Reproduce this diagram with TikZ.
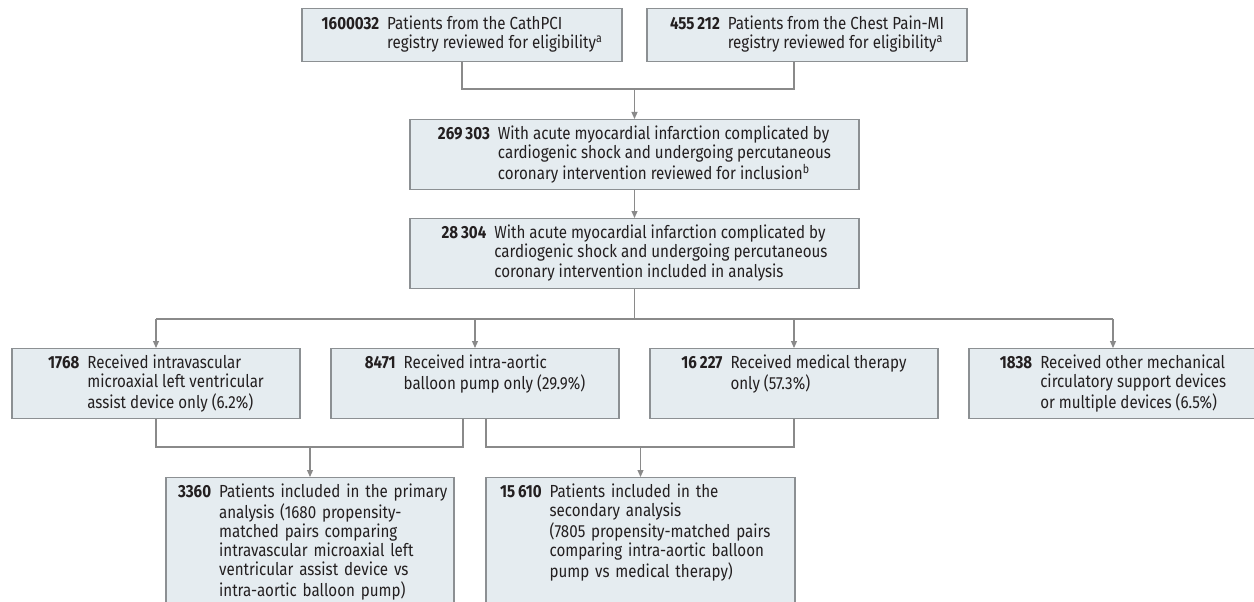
\documentclass[tikz,border=0pt]{standalone}
\usepackage{fontspec}
\setmainfont[FakeStretch=0.865]{Fira Sans}
\usetikzlibrary{arrows.meta}
\definecolor{boxfill}{RGB}{229,236,240}
\definecolor{boxline}{RGB}{140,144,147}
\definecolor{linegray}{RGB}{138,138,138}
\definecolor{ink}{RGB}{35,31,32}
\newcommand{\entry}[2]{\begin{tabular}[t]{@{}l@{\hspace{8pt}}l@{}}\textbf{#1} & #2\end{tabular}}
\tikzset{
  box/.style={draw=boxline, fill=boxfill, line width=1.2pt, anchor=north, inner xsep=0pt, inner ysep=6.8pt,
    text=ink, font=\fontsize{17.5}{18.8}\selectfont, text height=13.2pt, text depth=43.2pt},
  twoline/.style={text depth=24.4pt, inner ysep=7.7pt},
  tallbox/.style={text depth=200pt, align=left},
  conn/.style={draw=linegray, line width=1.1pt},
  arrow/.style={conn, -{Triangle[length=7pt,width=6pt]}}
}
\begin{document}
\begin{tikzpicture}[x=1pt,y=-1pt]
    \useasboundingbox (0,0) rectangle (1254,602);
    \clip (0,0) rectangle (1254,602);
    \node[box, twoline, minimum width=320pt] (nCath) at (462,8) {\entry{1600032}{Patients from the CathPCI\\ & registry reviewed for eligibility\textsuperscript{a}}};
    \node[box, twoline, minimum width=320pt] (nChest) at (807,8) {\entry{455\,212}{Patients from the Chest Pain-MI\\ & registry reviewed for eligibility\textsuperscript{a}}};
    \node[box, minimum width=449pt] (nReview) at (634.5,119) {\entry{269\,303}{With acute myocardial infarction complicated by\\ & cardiogenic shock and undergoing percutaneous\\ & coronary intervention reviewed for inclusion\textsuperscript{b}}};
    \node[box, minimum width=449pt] (nIncl) at (634.5,218) {\entry{28\,304}{With acute myocardial infarction complicated by\\ & cardiogenic shock and undergoing percutaneous\\ & coronary intervention included in analysis}};
    \node[box, minimum width=288pt] (nImpella) at (156,348) {\entry{1768}{Received intravascular\\ & microaxial left ventricular\\ & assist device only (6.2\%)}};
    \node[box, minimum width=288pt] (nIabp) at (475,348) {\entry{8471}{Received intra-aortic\\ & balloon pump only (29.9\%)\\ & }};
    \node[box, minimum width=288pt] (nMed) at (794,348) {\entry{16\,227}{Received medical therapy\\ & only (57.3\%)\\ & }};
    \node[box, minimum width=288pt] (nOther) at (1113,348) {\entry{1838}{Received other mechanical\\ & circulatory support devices\\ & or multiple devices (6.5\%)}};
    \node[box, tallbox, inner xsep=12pt, text width=264pt] (nPrim) at (310,477) {\entry{3360}{Patients included in the primary\\ & analysis (1680 propensity-\\ & matched pairs comparing\\ & intravascular microaxial left\\ & ventricular assist device vs\\ & intra-aortic balloon pump)}};
    \node[box, tallbox, inner xsep=14pt, text width=281pt] (nSec) at (640.5,477) {\entry{15\,610}{Patients included in the\\ & secondary analysis\\ & (7805 propensity-matched pairs\\ & comparing intra-aortic balloon\\ & pump vs medical therapy)}};
    \coordinate (jTop) at (634.5,89);
    \coordinate (jSplit) at (634.5,319);
    \coordinate (jPrim) at (310,447);
    \coordinate (jSec) at (640.5,447);
    \draw[conn] (nCath.south) |- (jTop) -| ([xshift=-13pt]nChest.south);
    \draw[arrow] (jTop) -- (nReview.north);
    \draw[arrow] (nReview.south) -- (nIncl.north);
    \draw[conn] (nIncl.south) -- (jSplit);
    \draw[conn] (nImpella.north |- jSplit) -- (nOther.north |- jSplit);
    \foreach \n in {nImpella,nIabp,nMed,nOther}
        \draw[arrow] (\n.north |- jSplit) -- (\n.north);
    \draw[conn] (nImpella.south) |- (jPrim) -| ([xshift=-12pt]nIabp.south);
    \draw[arrow] (jPrim) -- (nPrim.north);
    \draw[conn] ([xshift=11pt]nIabp.south) |- (jSec) -| (nMed.south);
    \draw[arrow] (jSec) -- (nSec.north);
\end{tikzpicture}
\end{document}
